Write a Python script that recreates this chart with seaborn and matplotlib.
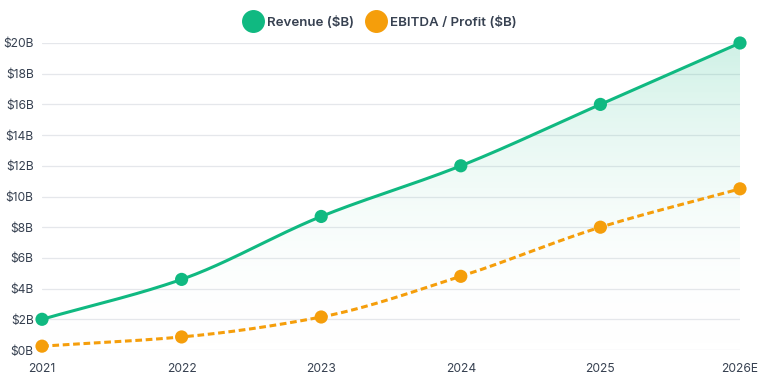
import numpy as np
import pandas as pd
import matplotlib.pyplot as plt
import seaborn as sns
from matplotlib.colors import LinearSegmentedColormap
from matplotlib.lines import Line2D

years = ['2021', '2022', '2023', '2024', '2025', '2026E']
revenue = [2.0, 4.6, 8.7, 12.0, 16.0, 20.0]
ebitda = [0.25, 0.85, 2.15, 4.8, 8.0, 10.5]

green = '#10b981'
orange = '#f59e0b'
text_col = '#374151'
grid_col = '#e5e7eb'


def monotone(x, y, n=40):
    # Fritsch-Carlson monotone cubic, only to draw the smooth curve
    x = np.asarray(x, float)
    y = np.asarray(y, float)
    h = np.diff(x)
    d = np.diff(y) / h
    m = np.zeros_like(y)
    m[0], m[-1] = d[0], d[-1]
    for i in range(1, len(y) - 1):
        if d[i - 1] * d[i] > 0:
            m[i] = 3 * (h[i - 1] + h[i]) / ((2 * h[i] + h[i - 1]) / d[i - 1] + (h[i] + 2 * h[i - 1]) / d[i])
    xs, ys = [], []
    for i in range(len(x) - 1):
        t = np.linspace(0, 1, n, endpoint=(i == len(x) - 2))
        h00 = 2 * t**3 - 3 * t**2 + 1
        h10 = t**3 - 2 * t**2 + t
        h01 = -2 * t**3 + 3 * t**2
        h11 = t**3 - t**2
        xs.append(x[i] + t * h[i])
        ys.append(h00 * y[i] + h10 * h[i] * m[i] + h01 * y[i + 1] + h11 * h[i] * m[i + 1])
    return np.concatenate(xs), np.concatenate(ys)


sns.set_style('white')
plt.rcParams['font.family'] = ['Inter', 'DejaVu Sans']

fig = plt.figure(figsize=(7.6, 3.8), dpi=100)
ax = fig.add_axes([42 / 760, 30 / 380, 698 / 760, 307 / 380])

xpos = np.arange(len(years))
rx, ry = monotone(xpos, revenue)
ex, ey = monotone(xpos, ebitda)

# gradient area under revenue
poly = ax.fill_between(rx, ry, 0, color='none', lw=0)
cmap = LinearSegmentedColormap.from_list('g', [(1, 1, 1, 0), (16 / 255, 185 / 255, 129 / 255, 0.2)])
grad = np.linspace(0, 1, 256).reshape(-1, 1)
img = ax.imshow(grad, cmap=cmap, aspect='auto', origin='lower',
                extent=[xpos[0], xpos[-1], 0, 20], zorder=1)
img.set_clip_path(poly.get_paths()[0], transform=ax.transData)

curves = pd.DataFrame({'x': np.concatenate([rx, ex]),
                       'y': np.concatenate([ry, ey]),
                       'series': ['Revenue ($B)'] * len(rx) + ['EBITDA / Profit ($B)'] * len(ex)})
sns.lineplot(data=curves, x='x', y='y', hue='series', style='series',
             palette=[green, orange], dashes=[(1, 0), (2.2, 1.2)],
             lw=2.2, legend=False, sort=False, ax=ax, zorder=3)

pts = pd.DataFrame({'x': np.concatenate([xpos, xpos]),
                    'y': revenue + ebitda,
                    'series': ['Revenue ($B)'] * 6 + ['EBITDA / Profit ($B)'] * 6})
sns.scatterplot(data=pts, x='x', y='y', hue='series', palette=[green, orange],
                s=90, edgecolor='none', legend=False, ax=ax, zorder=4, clip_on=False)

ax.set_xlim(xpos[0], xpos[-1])
ax.set_ylim(0, 20)
ax.set_xticks(xpos)
ax.set_xticklabels(years)
ax.set_yticks(range(0, 21, 2))
ax.set_yticklabels([f'${v}B' for v in range(0, 21, 2)])
ax.tick_params(axis='both', length=0, labelsize=8.7, labelcolor=text_col)
ax.tick_params(axis='x', pad=9)
ax.tick_params(axis='y', pad=6)
ax.grid(axis='y', color=grid_col, lw=0.9)
ax.set_axisbelow(True)
ax.set_xlabel('')
ax.set_ylabel('')
sns.despine(ax=ax, left=True, bottom=True)

handles = [Line2D([], [], marker='o', ls='none', color=green, markersize=15.5),
           Line2D([], [], marker='o', ls='none', color=orange, markersize=15.5)]
fig.legend(handles, ['Revenue ($B)', 'EBITDA / Profit ($B)'], loc='center',
           bbox_to_anchor=(380 / 760, 1 - 22 / 380), ncol=2, frameon=False,
           handletextpad=0.35, columnspacing=1.0, handlelength=1.4,
           prop={'size': 9.6, 'weight': 'semibold'}, labelcolor=text_col)

fig.savefig('out.png', dpi=100)
